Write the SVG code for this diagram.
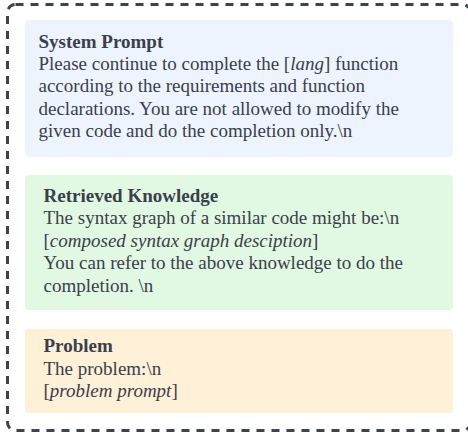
<svg xmlns="http://www.w3.org/2000/svg" width="468" height="436" viewBox="0 0 468 436">
<style>
.t{font-family:"Liberation Serif","Times New Roman",serif;font-size:19px;fill:#3a404b}
.b{font-weight:bold}
.i{font-style:italic}
.frame{fill:none;stroke:#3d434d;stroke-width:3;stroke-dasharray:8 7}
</style>
<rect class="frame" x="7.5" y="4.5" width="463" height="426" rx="8"/>
<g id="system-prompt">
<rect x="25" y="20" width="428" height="137" rx="4" fill="#edf4fe"/>
<text class="t" x="38.5" y="48"><tspan class="b">System Prompt</tspan></text>
<text class="t" x="38.5" y="70">Please continue to complete the [<tspan class="i">lang</tspan>] function</text>
<text class="t" x="38.5" y="92.3">according to the requirements and function</text>
<text class="t" x="38.5" y="114.6">declarations. You are not allowed to modify the</text>
<text class="t" x="38.5" y="136.9">given code and do the completion only.\n</text>
</g>
<g id="retrieved-knowledge">
<rect x="25" y="175" width="428" height="135" rx="4" fill="#e1f8e2"/>
<text class="t" x="43.5" y="201.7"><tspan class="b">Retrieved Knowledge</tspan></text>
<text class="t" x="43.5" y="224.2">The syntax graph of a similar code might be:\n</text>
<text class="t" x="43.5" y="246.7">[<tspan class="i">composed syntax graph desciption</tspan>]</text>
<text class="t" x="43.5" y="269.2">You can refer to the above knowledge to do the</text>
<text class="t" x="43.5" y="291.7">completion. \n</text>
</g>
<g id="problem">
<rect x="25" y="329" width="428" height="84" rx="4" fill="#fef1d8"/>
<text class="t" x="43.5" y="351.7"><tspan class="b">Problem</tspan></text>
<text class="t" x="43.5" y="374.5">The problem:\n</text>
<text class="t" x="43.5" y="397.3">[<tspan class="i">problem prompt</tspan>]</text>
</g>
<g id="connectors"/>
</svg>
